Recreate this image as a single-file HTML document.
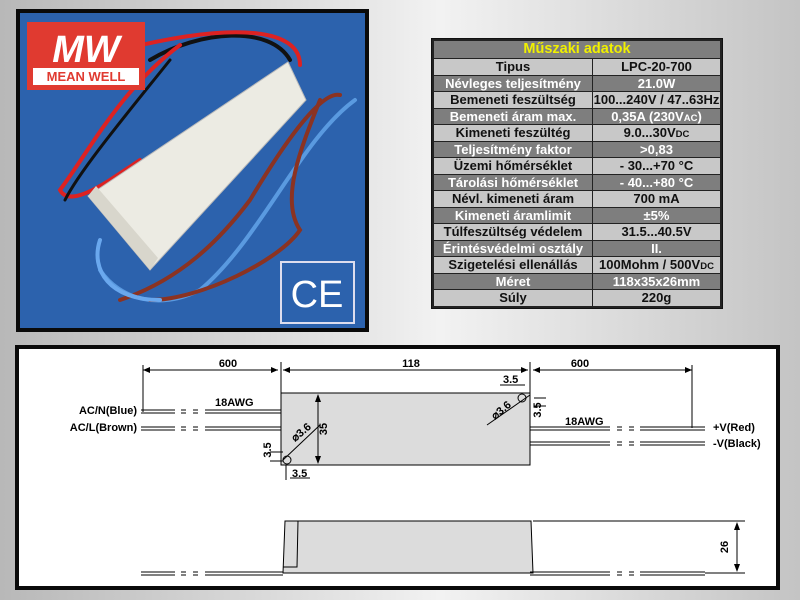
<!DOCTYPE html>
<html><head><meta charset="utf-8"><style>
html,body{margin:0;padding:0}
body{width:800px;height:600px;overflow:hidden;position:relative;background:linear-gradient(90deg,#b8b8b8 0%,#e6e6e6 45%,#f2f2f2 55%,#c4c4c4 100%);font-family:"Liberation Sans",sans-serif}
#tbl{position:absolute;left:431px;top:38px;width:290px;height:269px;background:#222;border:1px solid #111}
table{border-collapse:collapse;table-layout:fixed;width:288px;margin:1px;font-weight:bold;font-size:13px}
td{border:1px solid #222;text-align:center;height:15.5px;padding:0;line-height:15px;white-space:nowrap;overflow:hidden}
tr.l td{background:#c8c8c8;color:#111}
tr.d td{background:#7e7e7e;color:#fff}
tr.h td{background:#7e7e7e;color:#f0f000;font-size:14.5px;height:17px}
small{font-size:9.5px;line-height:0}
</style></head><body>
<svg style="position:absolute;left:0;top:0" width="800" height="600">
<rect x="16" y="9" width="353" height="323" fill="#0a0a0a"/>
<rect x="20" y="13" width="345" height="315" fill="#2c62ad"/>
<g fill="none" stroke-linecap="round">
<path d="M150 60 C200 30 270 25 290 60" stroke="#111" stroke-width="4"/>
<path d="M120 50 C240 20 300 30 300 65" stroke="#d22" stroke-width="4"/>
<path d="M180 45 C120 90 90 150 60 190 C70 210 110 180 140 160" stroke="#d22" stroke-width="4"/>
<path d="M170 60 C130 110 80 170 65 200" stroke="#111" stroke-width="3"/>
<path d="M340 95 C320 90 280 150 250 200 C220 240 180 280 120 300" stroke="#8b3322" stroke-width="4"/>
<path d="M355 100 C300 140 260 240 200 290 C160 310 120 300 100 270" stroke="#5a9ae0" stroke-width="4"/>
<path d="M320 100 C300 150 280 200 300 230 C280 260 200 300 150 300" stroke="#8b3322" stroke-width="4"/>
<path d="M100 240 C90 270 110 300 160 300" stroke="#6aa8ee" stroke-width="4"/>
</g>
<polygon points="88,196 288,62 306,100 150,270" fill="#ecebe3" stroke="#bbb"/>
<polygon points="88,196 150,270 158,258 96,186" fill="#d8d6cc"/>
<rect x="27" y="22" width="118" height="68" fill="#e03a30"/>
<rect x="33" y="68" width="106" height="17" fill="#fff"/>
<text x="86" y="81" font-size="13" font-weight="bold" fill="#e03a30" text-anchor="middle">MEAN WELL</text>
<text x="86" y="62" font-size="38" font-weight="bold" font-style="italic" fill="#fff" text-anchor="middle">MW</text>
<rect x="281" y="262" width="73" height="61" fill="none" stroke="#dde" stroke-width="2"/>
<text x="317" y="307" font-size="38" fill="#fff" text-anchor="middle">CE</text>
<rect x="15" y="345" width="765" height="245" fill="#0a0a0a"/>
<rect x="19" y="349" width="757" height="237" fill="#fff"/>
<rect x="281" y="393" width="249" height="72" fill="#dcdcdc" stroke="#000"/>
<polygon points="285,521 531,521 533,573 283,573" fill="#dcdcdc" stroke="#000"/>
<path d="M285 521 L298 521 L297 567 L283 567" fill="none" stroke="#000"/>
<g stroke="#000" stroke-width="1" fill="none">
<line x1="143" y1="365" x2="143" y2="412"/>
<line x1="281" y1="362" x2="281" y2="393"/>
<line x1="530" y1="362" x2="530" y2="393"/>
<line x1="692" y1="365" x2="692" y2="428"/>
<line x1="143" y1="370" x2="278" y2="370"/>
<line x1="283" y1="370" x2="528" y2="370"/>
<line x1="533" y1="370" x2="692" y2="370"/>
<line x1="318" y1="395" x2="318" y2="463"/>
<line x1="283" y1="460" x2="320" y2="425"/><line x1="487" y1="425" x2="530" y2="395"/>
<circle cx="287" cy="460" r="4"/><circle cx="522" cy="398" r="4"/>
<line x1="270" y1="461" x2="283" y2="461"/><line x1="270" y1="452" x2="283" y2="452"/>
<line x1="286" y1="465" x2="286" y2="480"/><line x1="290" y1="478" x2="310" y2="478"/>
<line x1="500" y1="385" x2="525" y2="385"/><line x1="534" y1="398" x2="546" y2="398"/><line x1="534" y1="406" x2="546" y2="406"/>
<path d="M141 410 H175 M181 410 H186 M193 410 H198 M205 410 H281 M141 413 H175 M181 413 H186 M193 413 H198 M205 413 H281"/>
<path d="M141 427 H175 M181 427 H186 M193 427 H198 M205 427 H281 M141 430 H175 M181 430 H186 M193 430 H198 M205 430 H281"/>
<path d="M530 427 H610 M617 427 H622 M629 427 H634 M640 427 H705 M530 430 H610 M617 430 H622 M629 430 H634 M640 430 H705"/>
<path d="M530 442 H610 M617 442 H622 M629 442 H634 M640 442 H705 M530 445 H610 M617 445 H622 M629 445 H634 M640 445 H705"/>
<path d="M141 572 H175 M181 572 H186 M193 572 H198 M205 572 H283 M141 575 H175 M181 575 H186 M193 575 H198 M205 575 H283"/>
<path d="M530 572 H610 M617 572 H622 M629 572 H634 M640 572 H705 M530 575 H610 M617 575 H622 M629 575 H634 M640 575 H705"/>
<line x1="533" y1="521" x2="745" y2="521"/><line x1="705" y1="573" x2="745" y2="573"/><line x1="737" y1="524" x2="737" y2="570"/>
</g>
<g fill="#000">
<polygon points="143,370 150,367 150,373"/><polygon points="278,370 271,367 271,373"/>
<polygon points="283,370 290,367 290,373"/><polygon points="528,370 521,367 521,373"/>
<polygon points="533,370 540,367 540,373"/><polygon points="692,370 685,367 685,373"/>
<polygon points="737,522 734,530 740,530"/><polygon points="737,572 734,564 740,564"/>
<polygon points="318,394 315,402 321,402"/><polygon points="318,464 315,456 321,456"/>
</g>
<g font-size="11" font-weight="bold" fill="#000">
<text x="228" y="367" text-anchor="middle">600</text>
<text x="411" y="367" text-anchor="middle">118</text>
<text x="580" y="367" text-anchor="middle">600</text>
<text x="215" y="406">18AWG</text>
<text x="565" y="425">18AWG</text>
<text x="137" y="414" text-anchor="end">AC/N(Blue)</text>
<text x="137" y="431" text-anchor="end">AC/L(Brown)</text>
<text x="713" y="431">+V(Red)</text>
<text x="713" y="447">-V(Black)</text>
<text x="503" y="383">3.5</text>
<text x="292" y="477">3.5</text>
<text transform="translate(327,429) rotate(-90)" text-anchor="middle">35</text>
<text transform="translate(271,450) rotate(-90)" text-anchor="middle">3.5</text>
<text transform="translate(541,410) rotate(-90)" text-anchor="middle">3.5</text>
<text transform="translate(295,442) rotate(-40)">⌀3.6</text>
<text transform="translate(495,420) rotate(-40)">⌀3.6</text>
<text transform="translate(728,547) rotate(-90)" text-anchor="middle">26</text>
</g>
</svg>
<div id="tbl"><table>
<colgroup><col style="width:159px"><col></colgroup>
<tr class="h"><td colspan="2">Műszaki adatok</td></tr>
<tr class="l"><td>Tipus</td><td>LPC-20-700</td></tr>
<tr class="d"><td>Névleges teljesítmény</td><td>21.0W</td></tr>
<tr class="l"><td>Bemeneti feszültség</td><td>100...240V / 47..63Hz</td></tr>
<tr class="d"><td>Bemeneti áram max.</td><td>0,35A (230V<small>AC</small>)</td></tr>
<tr class="l"><td>Kimeneti feszültég</td><td>9.0...30V<small>DC</small></td></tr>
<tr class="d"><td>Teljesítmény faktor</td><td>&gt;0,83</td></tr>
<tr class="l"><td>Üzemi hőmérséklet</td><td>- 30...+70 °C</td></tr>
<tr class="d"><td>Tárolási hőmérséklet</td><td>- 40...+80 °C</td></tr>
<tr class="l"><td>Névl. kimeneti áram</td><td>700 mA</td></tr>
<tr class="d"><td>Kimeneti áramlimit</td><td>±5%</td></tr>
<tr class="l"><td>Túlfeszültség védelem</td><td>31.5...40.5V</td></tr>
<tr class="d"><td>Érintésvédelmi osztály</td><td>II.</td></tr>
<tr class="l"><td>Szigetelési ellenállás</td><td>100Mohm / 500V<small>DC</small></td></tr>
<tr class="d"><td>Méret</td><td>118x35x26mm</td></tr>
<tr class="l"><td>Súly</td><td>220g</td></tr>
</table></div>
</body></html>
